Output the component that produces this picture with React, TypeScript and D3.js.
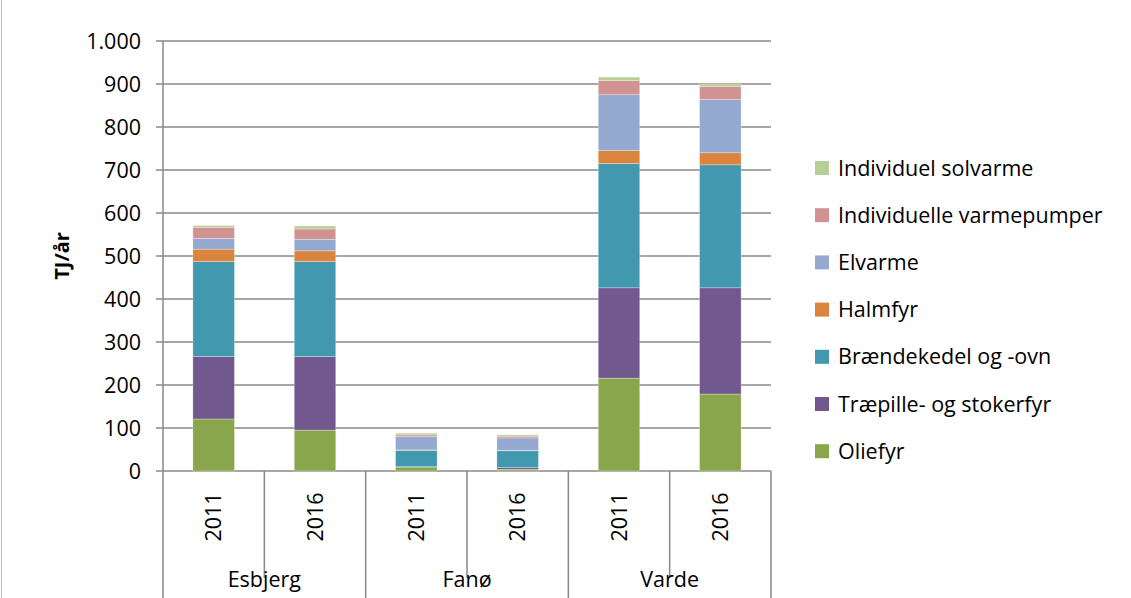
import React from "react";
import * as d3 from "d3";

const groups = ["Esbjerg", "Fanø", "Varde"];
const years = ["2011", "2016"];
const seriesNames = [
  "Oliefyr",
  "Træpille- og stokerfyr",
  "Brændekedel og -ovn",
  "Halmfyr",
  "Elvarme",
  "Individuelle varmepumper",
  "Individuel solvarme",
];
const colors = ["#8AA64C", "#71588F", "#4198AF", "#DB843D", "#93A9CF", "#D19392", "#B9CD96"];
// values per bar: Esbjerg 2011, Esbjerg 2016, Fanø 2011, Fanø 2016, Varde 2011, Varde 2016
const oliefyr = [121, 95, 9, 4, 216, 179];
const traepille = [145, 171, 1, 4, 210, 247];
const braende = [221, 221, 38, 39, 289, 286];
const halmfyr = [29, 25, 1, 1, 30, 28];
const elvarme = [25, 27, 31, 29, 130, 124];
const varmepumper = [26, 24, 4, 4, 33, 30];
const solvarme = [4, 7, 4, 3, 8, 6];
const yTicks = [0, 100, 200, 300, 400, 500, 600, 700, 800, 900, 1000];

const seriesValues = [oliefyr, traepille, braende, halmfyr, elvarme, varmepumper, solvarme];

export default function App() {
  const W = 1131, H = 598;
  const x0 = 163, x1 = 771;
  const y0 = 471, y1 = 41;
  const barKeys = groups.flatMap((g) => years.map((yr) => g + "|" + yr));
  const x = d3.scaleBand<string>().domain(barKeys).range([x0, x1]).paddingInner(0).paddingOuter(0);
  const y = d3.scaleLinear().domain([0, 1000]).range([y0, y1]);
  const rows = barKeys.map((k, i) => {
    const r: any = { key: k };
    seriesNames.forEach((s, j) => (r[s] = seriesValues[j][i]));
    return r;
  });
  const stacked = d3.stack<any>().keys(seriesNames)(rows);
  const bw = x.bandwidth() * 0.41;
  const fmt = (v: number) => (v === 1000 ? "1.000" : String(v));
  const font = "'Open Sans', 'Noto Sans', sans-serif";
  const groupW = x.bandwidth() * 2;
  const fs = 21.5;

  return (
    <svg width={W} height={H} style={{ position: "absolute", left: 0, top: 0 }} fontFamily={font}>
      <rect x={0} y={0} width={W} height={H} fill="#fff" />
      <line x1={1.5} y1={0} x2={1.5} y2={H} stroke="#bfbfbf" />
      {yTicks.map((t) => (
        <g key={t}>
          <line x1={x0 - 7} x2={x1} y1={y(t)} y2={y(t)} stroke="#888" strokeWidth={1.5} />
          <text x={141} y={y(t)} dy="0.35em" textAnchor="end" fontSize={fs} fill="#000">
            {fmt(t)}
          </text>
        </g>
      ))}
      <line x1={x0} x2={x0} y1={y1} y2={y0} stroke="#888" strokeWidth={1.5} />
      <text
        transform={`translate(62,${(y0 + y1) / 2}) rotate(-90)`}
        textAnchor="middle"
        fontSize={20}
        fontWeight="bold"
        dy="0.35em"
      >
        TJ/år
      </text>
      {stacked.map((layer, j) => (
        <g key={j} fill={colors[j]}>
          {layer.map((d, i) => (
            <rect
              key={i}
              x={(x(barKeys[i]) as number) + (x.bandwidth() - bw) / 2}
              y={y(d[1])}
              width={bw}
              height={Math.max(0, y(d[0]) - y(d[1]))}
              stroke="#fff"
              strokeOpacity={0.5}
              strokeWidth={0.6}
            />
          ))}
        </g>
      ))}
      {/* category axis */}
      {barKeys.map((k, i) => {
        const bx = x(k) as number;
        const isGroupStart = i % 2 === 0;
        return (
          <g key={k}>
            <line
              x1={bx}
              x2={bx}
              y1={y0}
              y2={isGroupStart ? H : 578}
              stroke="#888"
              strokeWidth={1.5}
            />
            <text
              transform={`translate(${bx + x.bandwidth() / 2},517) rotate(-90)`}
              textAnchor="middle"
              dy="0.35em"
              fontSize={fs}
            >
              {k.split("|")[1]}
            </text>
          </g>
        );
      })}
      <line x1={x1} x2={x1} y1={y0} y2={H} stroke="#888" strokeWidth={1.5} />
      {groups.map((g, i) => (
        <text key={g} x={x0 + groupW * i + groupW / 2} y={579} dy="0.35em" textAnchor="middle" fontSize={fs}>
          {g}
        </text>
      ))}
      {/* legend */}
      {seriesNames
        .map((s, j) => ({ s, j }))
        .reverse()
        .map(({ s, j }, i) => {
          const ly = 168 + i * 47.2;
          return (
            <g key={s}>
              <rect x={815} y={ly - 7} width={14} height={14} fill={colors[j]} />
              <text x={838} y={ly} dy="0.35em" fontSize={fs}>
                {s}
              </text>
            </g>
          );
        })}
    </svg>
  );
}
